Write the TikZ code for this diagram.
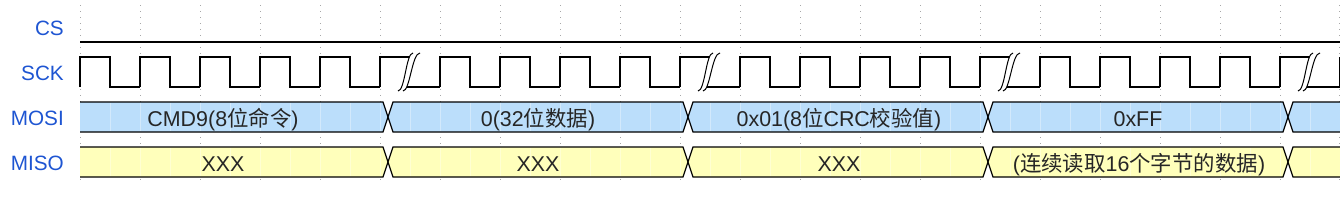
\documentclass[tikz,border=0pt]{standalone}
\usepackage{fontspec}
\setmainfont{Liberation Sans}
\newfontfamily\cjk{Noto Sans CJK SC}
\definecolor{sigblue}{HTML}{1E55D2}
\definecolor{mosifill}{HTML}{BBDEFB}
\definecolor{misofill}{HTML}{FFFFBB}
\definecolor{gridgray}{HTML}{A8A8A8}

\begin{document}
\begin{tikzpicture}[x=1bp,y=-1bp,
  lbl/.style={text=sigblue,font=\fontsize{20.8}{24}\selectfont,anchor=base east,inner sep=0pt},
  bustxt/.style={text=black!85,font=\fontsize{21.5}{25}\selectfont,anchor=base,inner sep=0pt},
  wave/.style={draw=black,line width=1.2bp,line cap=square},
  brk/.style={draw=black,line width=1bp}]
\useasboundingbox (0,0) rectangle (1340,202);
% grid
\foreach \gx in {80,140,...,1280,1339.5}
  \draw[gridgray,line width=0.8bp,dash pattern=on 1bp off 5bp] (\gx,5) -- (\gx,181);
% signal names
\node[lbl] (cs) at (64,35) {CS};
\node[lbl] (sck) at (64,80) {SCK};
\node[lbl] (mosi) at (64,125) {MOSI};
\node[lbl] (miso) at (64,170) {MISO};
% bus bands
\foreach \yt/\col in {102/mosifill,147/misofill}{
  \filldraw[wave,line cap=butt,fill=\col] (80,\yt) -- (383,\yt) -- (388,\yt+15) -- (383,\yt+30) -- (80,\yt+30);
  \foreach \a/\b in {388/688,688/988,988/1288}
    \filldraw[wave,line cap=butt,fill=\col] (\a,\yt+15) -- (\a+5,\yt) -- (\b-5,\yt) -- (\b,\yt+15) -- (\b-5,\yt+30) -- (\a+5,\yt+30) -- cycle;
  \filldraw[wave,line cap=butt,fill=\col] (1340,\yt) -- (1293,\yt) -- (1288,\yt+15) -- (1293,\yt+30) -- (1340,\yt+30);
  \foreach \gx in {110,140,...,1310}
    \draw[white,opacity=0.35,line width=0.7bp] (\gx,\yt+0.8) -- (\gx,\yt+29.2);
}
% bus values
\node[bustxt] (mosiA) at (223,126) {CMD9(8{\cjk 位命令})};
\node[bustxt] (mosiB) at (538,126) {0(32{\cjk 位数据})};
\node[bustxt] (mosiC) at (839,126) {0x01(8{\cjk 位}CRC{\cjk 校验值})};
\node[bustxt] (mosiD) at (1138,126) {0xFF};
\node[bustxt] (misoA) at (223,171) {XXX};
\node[bustxt] (misoB) at (538,171) {XXX};
\node[bustxt] (misoC) at (839,171) {XXX};
\node[bustxt] (misoD) at (1139,171) {({\cjk 连续读取}16{\cjk 个字节的数据})};
% CS
\draw[wave,line cap=butt] (80,42) -- (1340,42);
% SCK
\foreach \r in {80,140,...,1280}{
  \pgfmathtruncatemacro\cut{(\r>80)*(mod(\r-80,300)==0)}
  \ifnum\cut=1
    \draw[wave] (\r,87) -- (\r,57) -- (\r+31,57);
    \draw[wave] (\r+24,87) -- (\r+60,87);
    \fill[white] (\r+18,91) .. controls (\r+25,91) and (\r+26,53) .. (\r+33,53)
      -- (\r+40,53) .. controls (\r+32,53) and (\r+30,91) .. (\r+23,91) -- cycle;
    \draw[brk] (\r+18,91) .. controls (\r+25,91) and (\r+26,53) .. (\r+33,53);
    \draw[brk] (\r+23,91) .. controls (\r+30,91) and (\r+32,53) .. (\r+40,53);
  \else
    \draw[wave] (\r,87) -- (\r,57) -- (\r+30,57) -- (\r+30,87) -- (\r+60,87);
  \fi
}
\draw[wave] (1340,87) -- (1340,57);
\end{tikzpicture}
\end{document}
